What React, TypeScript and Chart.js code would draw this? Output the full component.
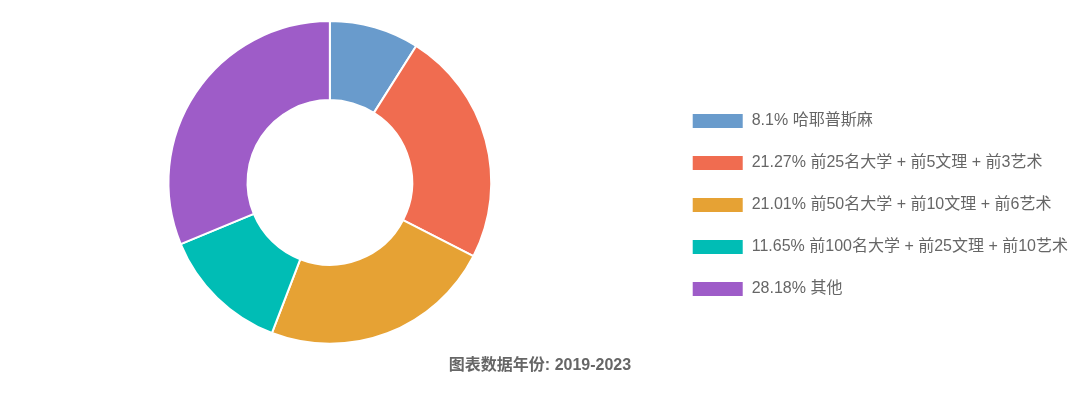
import { useEffect, useRef } from "react"
import { Chart, registerables } from "chart.js"
import type { Plugin } from "chart.js"

Chart.register(...registerables)

const categories = [
  "哈耶普斯麻",
  "前25名大学 + 前5文理 + 前3艺术",
  "前50名大学 + 前10文理 + 前6艺术",
  "前100名大学 + 前25文理 + 前10艺术",
  "其他",
]
const shares = [8.1, 21.27, 21.01, 11.65, 28.18]
const sliceColors = ["#699BCC", "#F06C50", "#E6A234", "#00BDB5", "#9E5CC8"]
const titleText = "图表数据年份: 2019-2023"

const FONT = "'Liberation Sans', 'Noto Sans CJK SC', Arial, sans-serif"

// push the legend a bit right and the doughnut a bit left, like the original
const nudgeLayout: Plugin<"doughnut"> = {
  id: "nudgeLayout",
  afterLayout(chart) {
    const legend = chart.legend
    if (legend) {
      legend.left += 6
      legend.right += 6
    }
    chart.chartArea.right -= 8
    chart.chartArea.width -= 8
  },
}

export default function App() {
  const chartRef = useRef<HTMLCanvasElement>(null)
  const chartInstance = useRef<Chart | null>(null)

  useEffect(() => {
    if (!chartRef.current) return

    if (chartInstance.current) {
      chartInstance.current.destroy()
    }

    const ctx = chartRef.current.getContext("2d")
    if (!ctx) return

    chartInstance.current = new Chart(ctx, {
      type: "doughnut",
      data: {
        labels: categories.map((c, i) => `${shares[i]}% ${c}`),
        datasets: [
          {
            data: shares,
            backgroundColor: sliceColors,
            borderColor: "#ffffff",
            borderWidth: 2,
          },
        ],
      },
      options: {
        animation: false,
        responsive: true,
        maintainAspectRatio: false,
        cutout: "51%",
        layout: {
          padding: { top: 12 },
        },
        plugins: {
          legend: {
            position: "right",
            labels: {
              boxWidth: 52,
              boxHeight: 16,
              padding: 26,
              color: "#666",
              font: { family: FONT, size: 16 },
            },
          },
          title: {
            display: true,
            position: "bottom",
            text: titleText,
            color: "#666",
            font: { family: FONT, size: 16, weight: "bold" },
            padding: { top: 11, bottom: 15 },
          },
          tooltip: { enabled: false },
        },
      },
      plugins: [nudgeLayout],
    })

    return () => {
      if (chartInstance.current) {
        chartInstance.current.destroy()
        chartInstance.current = null
      }
    }
  }, [])

  return (
    <div style={{ position: "relative", width: "100%", height: 382 }}>
      <canvas ref={chartRef} />
    </div>
  )
}
